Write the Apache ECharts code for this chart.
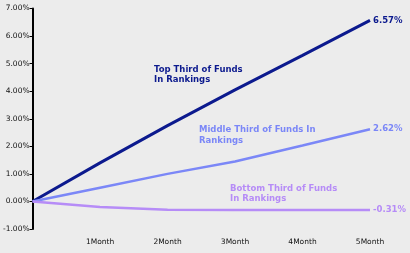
<!DOCTYPE html>
<html><head><meta charset="utf-8">
<script src="https://cdn.jsdelivr.net/npm/echarts@6/dist/echarts.min.js"></script>
<style>html,body{margin:0;padding:0;background:#ececec}#c{width:410px;height:253px}</style>
</head><body><div id="c"></div>
<script>
const categories = ['', '1Month', '2Month', '3Month', '4Month', '5Month'];
const topThird = [0, 1.40, 2.75, 4.05, 5.30, 6.57];
const middleThird = [0, 0.50, 1.00, 1.45, 2.03, 2.62];
const bottomThird = [0, -0.20, -0.30, -0.31, -0.31, -0.31];
const seriesNames = ['Top Third of Funds\nIn Rankings', 'Middle Third of Funds In\nRankings', 'Bottom Third of Funds\nIn Rankings'];
const colors = ['#0c1a8e', '#7b87f7', '#b68cf7'];

const chart = echarts.init(document.getElementById('c'), null, {renderer: 'canvas'});
const lblFont = {fontFamily: 'DejaVu Sans', fontSize: 7.5, color: '#111'};
function mk(name, data, color, w) {
  return {
    name: name, type: 'line', data: data, symbol: 'none', smooth: false,
    lineStyle: {color: color, width: w}, itemStyle: {color: color},
    endLabel: {show: true, formatter: p => p.value.toFixed(2) + '%', color: color,
      fontFamily: 'DejaVu Sans', fontWeight: 'bold', fontSize: 8.5, distance: 3}
  };
}
chart.setOption({
  backgroundColor: '#ececec',
  animation: false,
  grid: {left: 30, right: 40, top: 8.5, bottom: 24},
  xAxis: {
    type: 'category', data: categories, boundaryGap: false,
    axisLine: {show: false}, axisTick: {show: false}, splitLine: {show: false},
    axisLabel: Object.assign({margin: 9}, lblFont)
  },
  yAxis: {
    type: 'value', min: -1, max: 7, interval: 1,
    axisLine: {show: true, lineStyle: {color: '#000', width: 2}},
    axisTick: {show: true, length: 3, lineStyle: {color: '#000', width: 1}},
    splitLine: {show: false},
    axisLabel: Object.assign({margin: 3, formatter: v => v.toFixed(2) + '%'}, lblFont)
  },
  series: [
    mk(seriesNames[0], topThird, colors[0], 3),
    mk(seriesNames[1], middleThird, colors[1], 2.5),
    mk(seriesNames[2], bottomThird, colors[2], 2.5)
  ],
  graphic: [
    {type: 'text', left: 154, top: 65, style: {text: seriesNames[0], fill: colors[0], font: 'bold 8.5px "DejaVu Sans"', lineHeight: 10}},
    {type: 'text', left: 199, top: 124, style: {text: seriesNames[1], fill: colors[1], font: 'bold 8.5px "DejaVu Sans"', lineHeight: 11}},
    {type: 'text', left: 230, top: 184, style: {text: seriesNames[2], fill: colors[2], font: 'bold 8.5px "DejaVu Sans"', lineHeight: 10}}
  ]
});
</script></body></html>
